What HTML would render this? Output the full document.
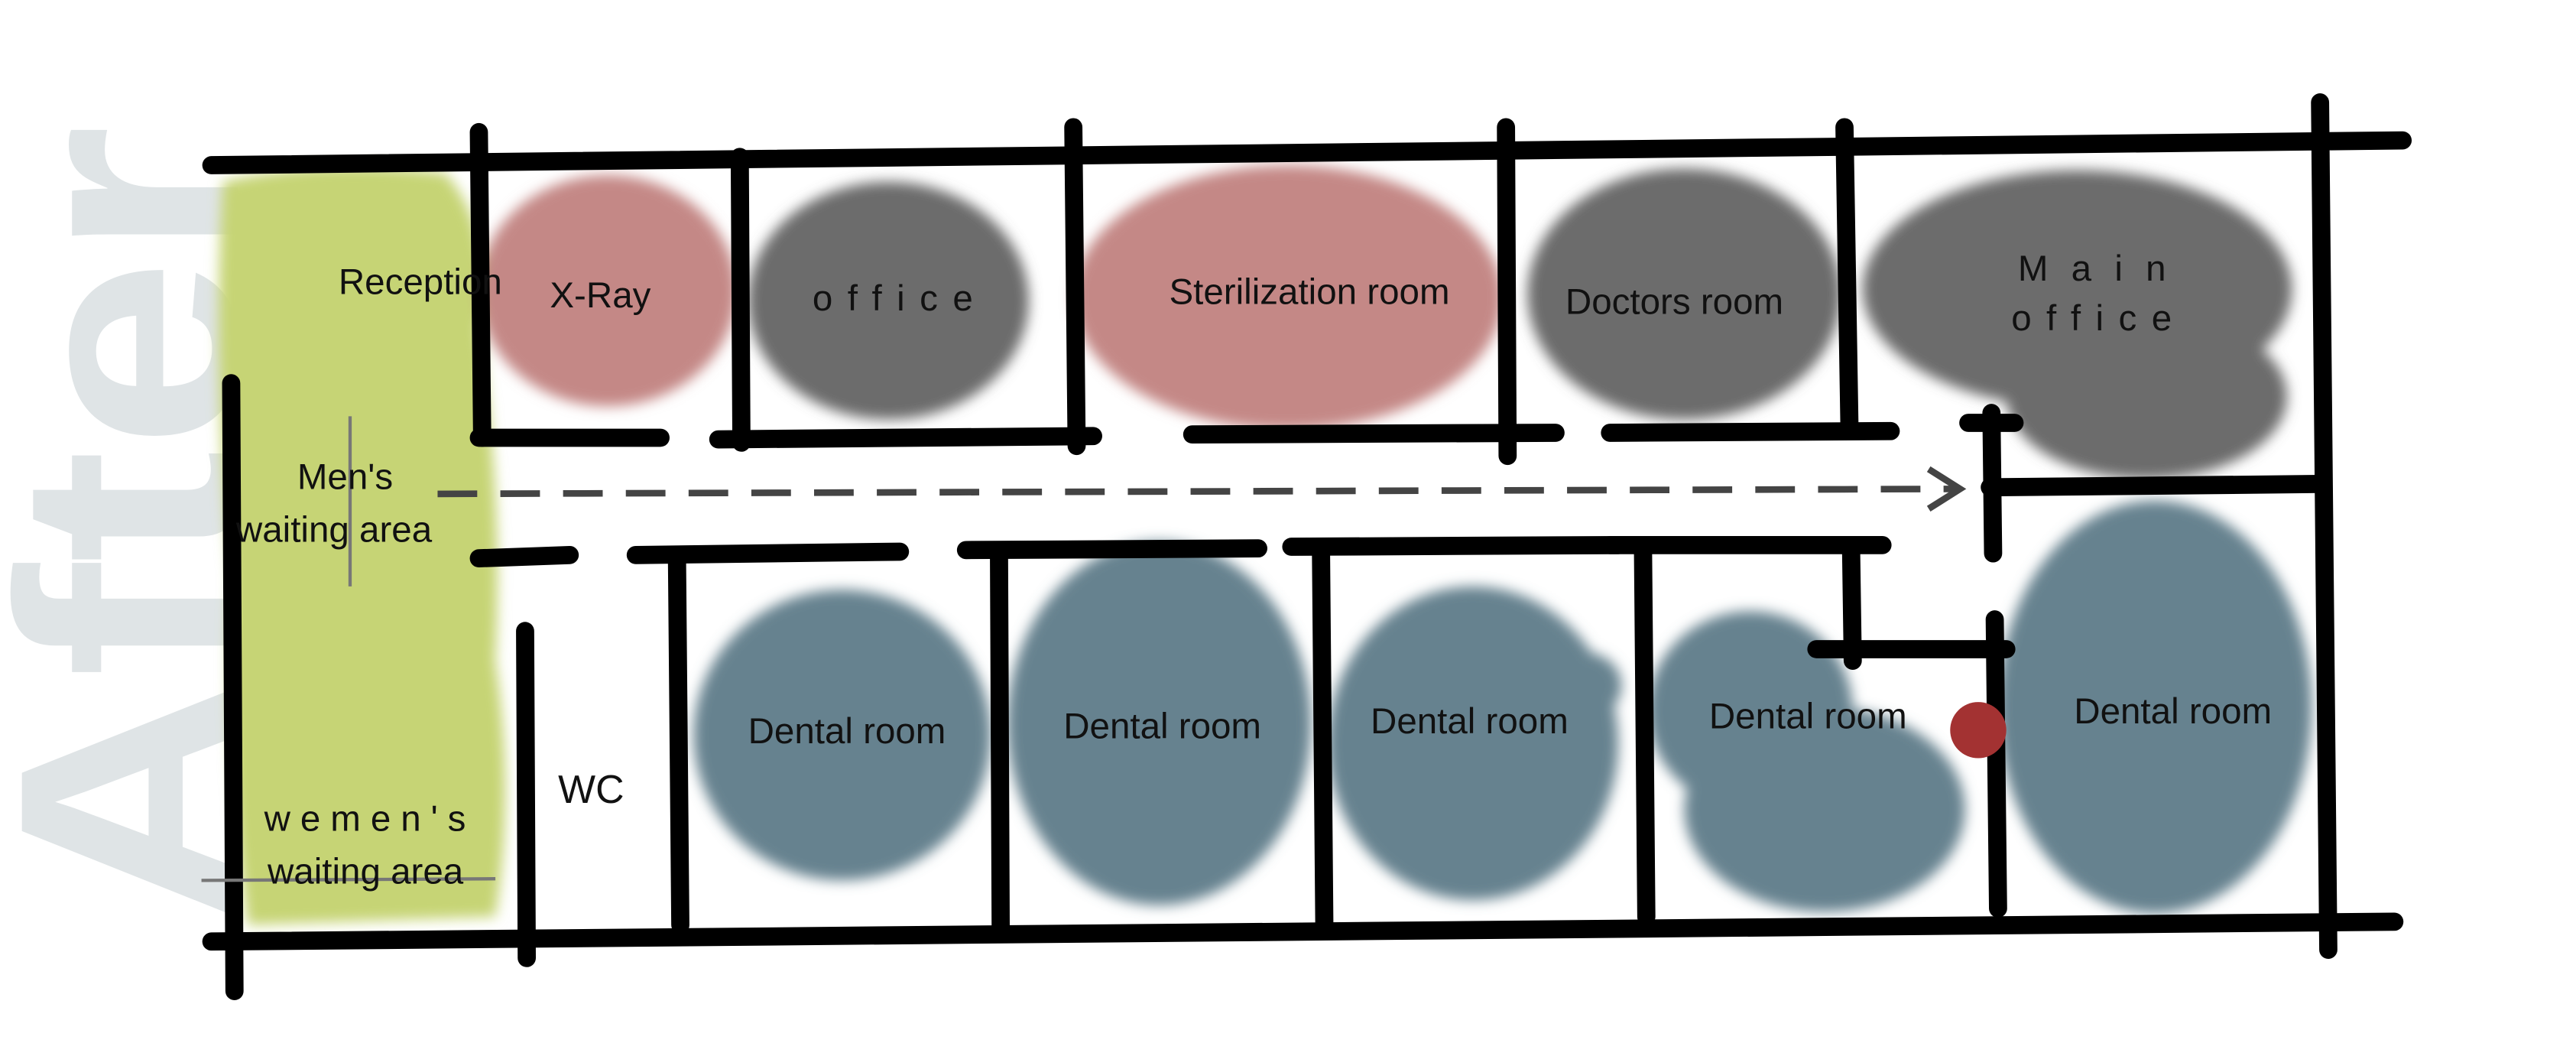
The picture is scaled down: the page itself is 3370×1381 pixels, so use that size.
<!DOCTYPE html>
<html><head><meta charset="utf-8"><style>
html,body{margin:0;padding:0;background:#fff;}
svg{display:block;}
text{font-family:"Liberation Sans",sans-serif;fill:#111;}
</style></head><body>
<svg width="3370" height="1381" viewBox="0 0 1560 639.3" preserveAspectRatio="none" xmlns="http://www.w3.org/2000/svg">
<defs>
<filter id="blur" x="-10%" y="-10%" width="120%" height="120%"><feGaussianBlur stdDeviation="4"/></filter>
</defs>
<!-- After -->
<text x="0" y="0" transform="translate(144,318) rotate(-90)" text-anchor="middle" font-size="190" font-weight="bold" textLength="485" lengthAdjust="spacingAndGlyphs" style="fill:#dfe4e6">After</text>
<g filter="url(#blur)">
<path d="M135 110 Q200 95 270 105 Q300 140 290 200 Q305 300 300 400 Q312 480 300 555 L150 560 Q135 450 140 350 Q128 220 135 110Z" fill="#c6d474"/>
<ellipse cx="368" cy="176" rx="78" ry="70" fill="#c48886"/>
<ellipse cx="780" cy="180" rx="130" ry="80" fill="#c48886"/>
<ellipse cx="538" cy="182" rx="85" ry="72" fill="#6c6c6c"/>
<ellipse cx="1020" cy="178" rx="95" ry="76" fill="#6c6c6c"/>
<ellipse cx="1258" cy="175" rx="130" ry="72" fill="#6c6c6c"/>
<ellipse cx="1300" cy="240" rx="85" ry="50" fill="#6c6c6c"/>
<ellipse cx="510" cy="445" rx="90" ry="88" fill="#66828f"/>
<ellipse cx="702" cy="438" rx="92" ry="110" fill="#66828f"/>
<ellipse cx="892" cy="450" rx="88" ry="95" fill="#66828f"/>
<ellipse cx="960" cy="415" rx="22" ry="20" fill="#66828f"/>
<ellipse cx="1060" cy="430" rx="62" ry="60" fill="#66828f"/>
<ellipse cx="1105" cy="490" rx="85" ry="62" fill="#66828f"/>
<ellipse cx="1305" cy="428" rx="95" ry="125" fill="#66828f"/>
</g>
<g stroke="#000" stroke-width="11" stroke-linecap="round" fill="none">
<path d="M128 100 L1455 85"/>
<path d="M128 570 L1450 558"/>
<path d="M140 232 L142 600"/>
<path d="M290 80 L292 265"/><path d="M448 95 L449 268"/><path d="M650 77 L652 270"/>
<path d="M912 77 L913 276"/><path d="M1117 77 L1120 258"/><path d="M1405 62 L1410 575"/>
<path d="M290 265 L400 265"/><path d="M435 266 L662 264"/><path d="M722 263 L942 262"/><path d="M975 262 L1145 261"/>
<path d="M1192 256 L1220 256"/><path d="M1205 295 L1405 293"/><path d="M1206 250 L1207 335"/><path d="M1208 375 L1210 550"/>
<path d="M290 338 L345 336"/><path d="M385 336 L545 334"/><path d="M585 333 L762 332"/><path d="M782 331 L980 330"/><path d="M975 330 L1140 330"/>
<path d="M410 340 L412 560"/><path d="M605 338 L606 560"/><path d="M800 336 L802 560"/><path d="M995 334 L997 555"/>
<path d="M318 382 L319 580"/><path d="M1121 332 L1122 400"/><path d="M1100 393 L1215 393"/>
</g>
<path d="M212 252 L212 355" stroke="#777" stroke-width="2"/>
<path d="M122 533 L300 532" stroke="#777" stroke-width="2"/>
<path d="M265 299 L1185 296" stroke="#444" stroke-width="4" stroke-dasharray="24 14" fill="none"/>
<path d="M1168 284 L1187 296 L1168 308" stroke="#444" stroke-width="4" fill="none"/>
<circle cx="1198" cy="442" r="17" fill="#a33232"/>
<g font-size="22">
<text x="205" y="178">Reception</text>
<text x="333" y="186">X-Ray</text>
<text x="492" y="188" letter-spacing="9">office</text>
<text x="708" y="184">Sterilization room</text>
<text x="948" y="190">Doctors room</text>
<text x="1222" y="170" letter-spacing="14">Main</text>
<text x="1218" y="200" letter-spacing="9">office</text>
<text x="180" y="296">Men's</text>
<text x="143" y="328">waiting area</text>
<text x="160" y="503" letter-spacing="6">wemen's</text>
<text x="162" y="535">waiting area</text>
<text x="338" y="486" font-size="24">WC</text>
<text x="453" y="450">Dental room</text>
<text x="644" y="447">Dental room</text>
<text x="830" y="444">Dental room</text>
<text x="1035" y="441">Dental room</text>
<text x="1256" y="438">Dental room</text>
</g>
</svg>
</body></html>
